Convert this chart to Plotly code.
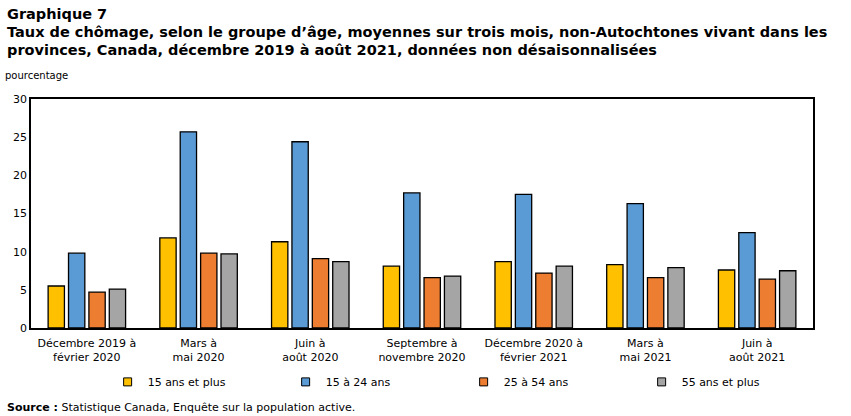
import plotly.graph_objects as go

categories = ["Décembre 2019 à<br>février 2020", "Mars à<br>mai 2020", "Juin à<br>août 2020",
              "Septembre à<br>novembre 2020", "Décembre 2020 à<br>février 2021", "Mars à<br>mai 2021",
              "Juin à<br>août 2021"]
s15plus = [5.5, 11.8, 11.3, 8.1, 8.7, 8.3, 7.6]
s15_24 = [9.8, 25.7, 24.4, 17.7, 17.5, 16.3, 12.5]
s25_54 = [4.7, 9.8, 9.1, 6.6, 7.2, 6.6, 6.4]
s55plus = [5.1, 9.7, 8.7, 6.8, 8.1, 7.9, 7.5]
names = ["15 ans et plus", "15 à 24 ans", "25 à 54 ans", "55 ans et plus"]
colors = ["#FFC000", "#5B9BD5", "#ED7D31", "#A5A5A5"]

FONT = "Verdana, DejaVu Sans, sans-serif"
fig = go.Figure()
for name, vals, c in zip(names, [s15plus, s15_24, s25_54, s55plus], colors):
    fig.add_trace(go.Bar(x=categories, y=vals, name=name, showlegend=False,
                         marker=dict(color=c, line=dict(color="black", width=1.3))))
# legend entries with small square symbols
for name, c in zip(names, colors):
    fig.add_trace(go.Scatter(x=[None], y=[None], mode="markers", name=name,
                             marker=dict(symbol="square", size=8, color=c,
                                         line=dict(color="black", width=1))))

fig.update_layout(
    width=851, height=416,
    margin=dict(l=31, r=38, t=99, b=88),
    paper_bgcolor="white", plot_bgcolor="white",
    barmode="group", bargap=0.27, bargroupgap=0.2,
    font=dict(family=FONT, size=11, color="black"),
    showlegend=True,
    legend=dict(orientation="h", x=0.098, xanchor="left", y=-0.172, yanchor="top",
                font=dict(size=11), traceorder="normal",
                entrywidthmode="pixels", entrywidth=133, itemwidth=30),
    xaxis=dict(showline=True, linecolor="black", linewidth=1.5, mirror=True,
               ticks="", tickfont=dict(size=11), ticklabelstandoff=4),
    yaxis=dict(range=[0, 30], dtick=5, showline=True, linecolor="black", linewidth=1.5,
               mirror=True, showgrid=False, zeroline=False, ticks="", tickfont=dict(size=11)),
)

ann = [
    dict(text="<b>Graphique 7</b>", x=5, y=14, size=14.5),
    dict(text="<b>Taux de chômage, selon le groupe d’âge, moyennes sur trois mois, non-Autochtones vivant dans les</b>", x=5, y=32, size=14.5),
    dict(text="<b>provinces, Canada, décembre 2019 à août 2021, données non désaisonnalisées</b>", x=5, y=50, size=14.5),
    dict(text="pourcentage", x=3, y=75, size=10),
    dict(text="<b>Source :</b> Statistique Canada, Enquête sur la population active.", x=5, y=407, size=11),
]
for a in ann:
    fig.add_annotation(text=a["text"], xref="paper", yref="paper",
                       x=(a["x"] - 31) / (851 - 31 - 38), y=1 - (a["y"] - 99) / (416 - 99 - 88),
                       xanchor="left", yanchor="middle", showarrow=False,
                       font=dict(size=a["size"], family=FONT, color="black"))

fig.write_html("out.html")
